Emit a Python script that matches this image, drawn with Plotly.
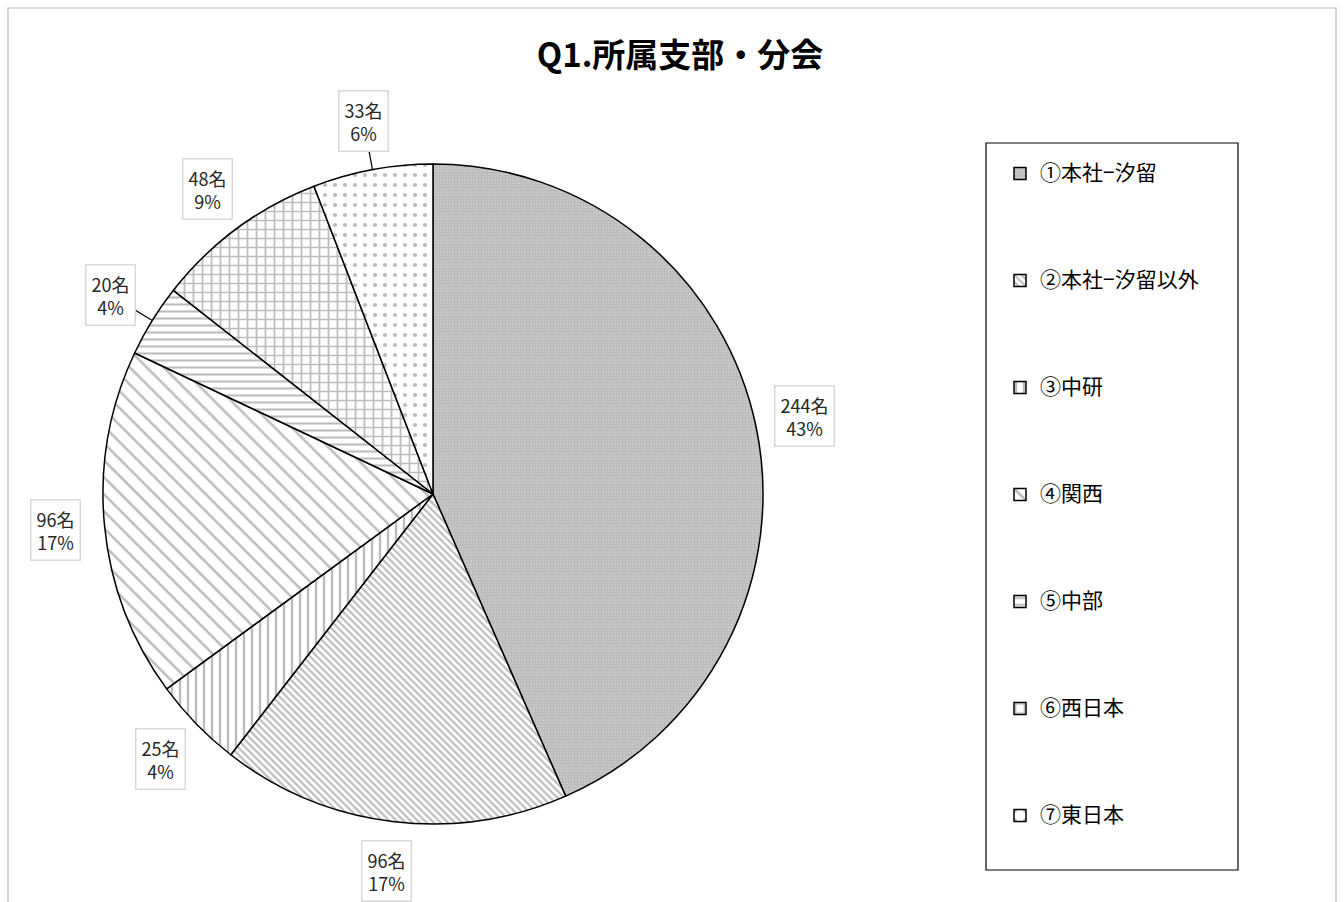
import math
import plotly.graph_objects as go

# ---- data ----
categories = ["①本社−汐留", "②本社−汐留以外", "③中研", "④関西", "⑤中部", "⑥西日本", "⑦東日本"]
counts = [244, 96, 25, 96, 20, 48, 33]
pct_labels = ["43%", "17%", "4%", "17%", "4%", "9%", "6%"]

# ---- style ----
W, H = 1344, 902
CX, CY, R = 433, 494, 330          # pie centre / radius in px
LABEL_F = 1.15                     # label distance factor
patterns = [".", "\\", "|", "\\", "-", "+", "."]
psizes = [3, 5, 8, 12, 7, 9, 10]
psolid = [0.85, 0.45, 0.3, 0.22, 0.3, 0.35, 0.14]
leader = [False, False, False, False, True, False, True]
FONT = "Noto Sans CJK JP"

domain_x = [(CX - R) / W, (CX + R) / W]
domain_y = [1 - (CY + R) / H, 1 - (CY - R) / H]

pad_labels = [" <br> <br><span style=\"font-size:21px\">" + c + "</span><br> <br> "
              for c in categories]

fig = go.Figure(go.Pie(
    labels=pad_labels,
    values=counts,
    sort=False,
    direction="clockwise",
    rotation=0,
    textinfo="none",
    hoverinfo="skip",
    domain=dict(x=domain_x, y=domain_y),
    marker=dict(
        colors=["white"] * len(counts),
        line=dict(color="black", width=1.5),
        pattern=dict(shape=patterns, size=psizes, solidity=psolid,
                     fgcolor="#7a7a7a", bgcolor="white", fillmode="overlay"),
    ),
))

total = sum(counts)
annotations = []
shapes = []
cum = 0
for i, v in enumerate(counts):
    mid = (cum + v / 2) / total * 2 * math.pi
    cum += v
    s, c = math.sin(mid), math.cos(mid)
    lx = CX + R * LABEL_F * s
    ly = CY - R * LABEL_F * c
    annotations.append(dict(
        x=lx / W, y=1 - ly / H, xref="paper", yref="paper",
        xanchor="center", yanchor="middle",
        text=f"{v}名<br>{pct_labels[i]}", showarrow=False,
        font=dict(family=FONT, size=18, color="#262626"),
        bgcolor="white", bordercolor="#d9d9d9", borderwidth=1.5, borderpad=5,
        align="center",
    ))
    if leader[i]:
        x0, y0 = CX + R * s, CY - R * c
        x1, y1 = CX + R * 1.08 * s, CY - R * 1.08 * c
        shapes.append(dict(type="line", xref="paper", yref="paper",
                           x0=x0 / W, y0=1 - y0 / H, x1=x1 / W, y1=1 - y1 / H,
                           line=dict(color="black", width=1.2)))

# outer frame and legend frame
shapes.append(dict(type="rect", xref="paper", yref="paper",
                   x0=8 / W, x1=1336 / W, y0=-0.01, y1=1 - 8 / H,
                   line=dict(color="#bfbfbf", width=1.2), layer="below"))
shapes.append(dict(type="rect", xref="paper", yref="paper",
                   x0=986 / W, x1=1238 / W, y0=1 - 870 / H, y1=1 - 143 / H,
                   line=dict(color="black", width=1.2)))

fig.update_layout(
    width=W, height=H,
    margin=dict(l=0, r=0, t=0, b=0),
    paper_bgcolor="white", plot_bgcolor="white",
    title=dict(text="<b>Q1.所属支部・分会</b>", x=0.506, xanchor="center",
               y=1 - 55 / H, yanchor="middle",
               font=dict(family=FONT, size=33, color="black")),
    showlegend=True,
    legend=dict(x=1000 / W, xanchor="left", y=1 - 115 / H, yanchor="top",
                font=dict(family=FONT, size=16, color="black"),
                bgcolor="rgba(0,0,0,0)", borderwidth=0, valign="middle"),
    annotations=annotations,
    shapes=shapes,
)

fig.write_html("out.html", config={"displayModeBar": False},
               post_script="document.body.style.margin='0px';")
